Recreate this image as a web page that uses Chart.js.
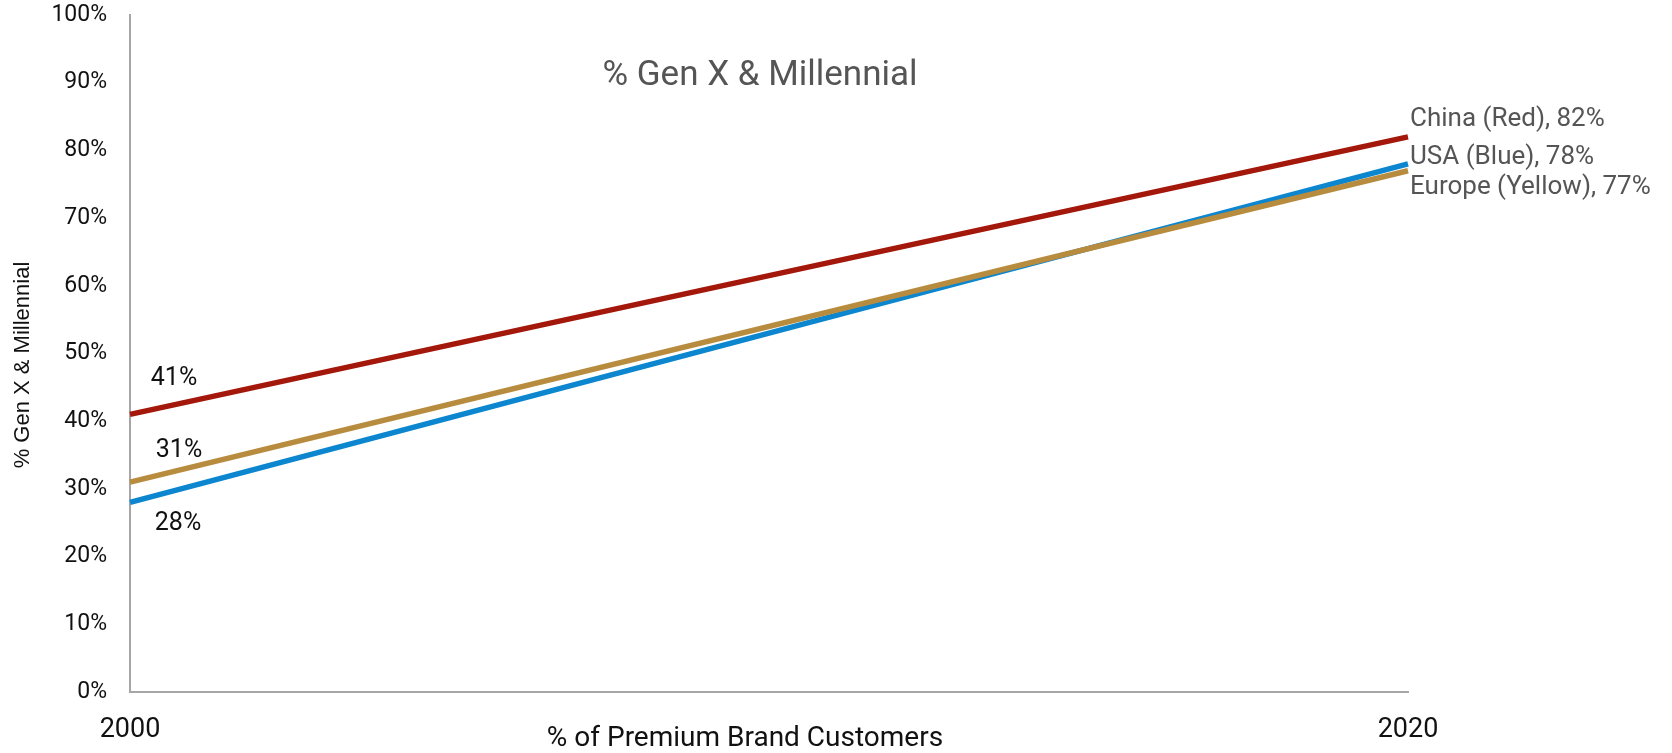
<!DOCTYPE html>
<html>
<head>
<meta charset="utf-8">
<script src="https://cdn.jsdelivr.net/npm/chart.js@4.4.0/dist/chart.umd.min.js"></script>
<style>
  body { margin: 0; background: #fff; }
  #wrap { width: 1672px; height: 753px; position: relative; }
</style>
</head>
<body>
<div id="wrap"><canvas id="genChart"></canvas></div>
<script>
// data
const years = ['2000', '2020'];
const china = [41, 82];
const usa = [28, 78];
const europe = [31, 77];
const seriesNames = ['China (Red)', 'USA (Blue)', 'Europe (Yellow)'];

const FONT = 'Roboto, "Liberation Sans", sans-serif';

// label offsets from the end points (px)
const startOffsets = [[44, -36], [48, 21], [49, -31]];
const endOffsets = [[2, -17], [2, -6], [2, 17]];

const textPlugin = {
  id: 'textPlugin',
  afterDraw(chart) {
    const ctx = chart.ctx;
    ctx.save();

    // title
    ctx.fillStyle = '#555555';
    ctx.font = '35px ' + FONT;
    ctx.textAlign = 'center';
    ctx.textBaseline = 'middle';
    ctx.fillText('% Gen X & Millennial', 760, 76);

    // x axis title
    ctx.fillStyle = '#111';
    ctx.font = '28px ' + FONT;
    ctx.fillText('% of Premium Brand Customers', 745, 739);

    // y axis title
    ctx.save();
    ctx.translate(23, 365);
    ctx.rotate(-Math.PI / 2);
    ctx.font = '22px "Liberation Sans", Arial, sans-serif';
    ctx.fillText('% Gen X & Millennial', 0, 0);
    ctx.restore();

    // data labels
    chart.data.datasets.forEach((ds, i) => {
      const meta = chart.getDatasetMeta(i);
      const p0 = meta.data[0];
      const p1 = meta.data[meta.data.length - 1];
      const k = seriesNames.indexOf(ds.label);

      ctx.fillStyle = '#111';
      ctx.font = '25px ' + FONT;
      ctx.textAlign = 'center';
      ctx.fillText(ds.data[0] + '%', p0.x + startOffsets[k][0], p0.y + startOffsets[k][1]);

      ctx.fillStyle = '#555555';
      ctx.font = '26px ' + FONT;
      ctx.textAlign = 'left';
      ctx.fillText(ds.label + ', ' + ds.data[ds.data.length - 1] + '%', p1.x + endOffsets[k][0], p1.y + endOffsets[k][1]);
    });
    ctx.restore();
  }
};

const ctx = document.getElementById('genChart').getContext('2d');
const genChart = new Chart(ctx, {
  type: 'line',
  data: {
    labels: years,
    datasets: [
      { label: seriesNames[0], data: china, borderColor: '#a3180b', order: 3 },
      { label: seriesNames[1], data: usa, borderColor: '#0b86cf', order: 2 },
      { label: seriesNames[2], data: europe, borderColor: '#b88c3f', order: 1 }
    ].map(d => Object.assign(d, { borderWidth: 5.5, pointRadius: 0, tension: 0, fill: false, borderCapStyle: 'butt' }))
  },
  options: {
    responsive: true,
    maintainAspectRatio: false,
    animation: false,
    layout: { padding: { top: 15, right: 264, left: 0, bottom: 0 } },
    plugins: {
      legend: { display: false },
      tooltip: { enabled: false }
    },
    scales: {
      x: {
        offset: false,
        grid: { display: false, drawTicks: false },
        border: { color: '#a6a6a6', width: 2 },
        ticks: {
          color: '#111',
          font: { family: FONT, size: 27 },
          padding: 22,
          autoSkip: false,
          maxRotation: 0
        },
        afterFit(scale) { scale.height = 61; scale.paddingLeft = 0; scale.paddingRight = 0; }
      },
      y: {
        min: 0,
        max: 100,
        grid: { display: false, drawTicks: false },
        border: { color: '#a6a6a6', width: 2 },
        ticks: {
          stepSize: 10,
          color: '#111',
          font: { family: FONT, size: 23 },
          padding: 23,
          callback: v => v + '%'
        },
        afterFit(scale) { scale.width = 130; scale.paddingTop = 0; scale.paddingBottom = 0; }
      }
    }
  },
  plugins: [textPlugin]
});
</script>
</body>
</html>
